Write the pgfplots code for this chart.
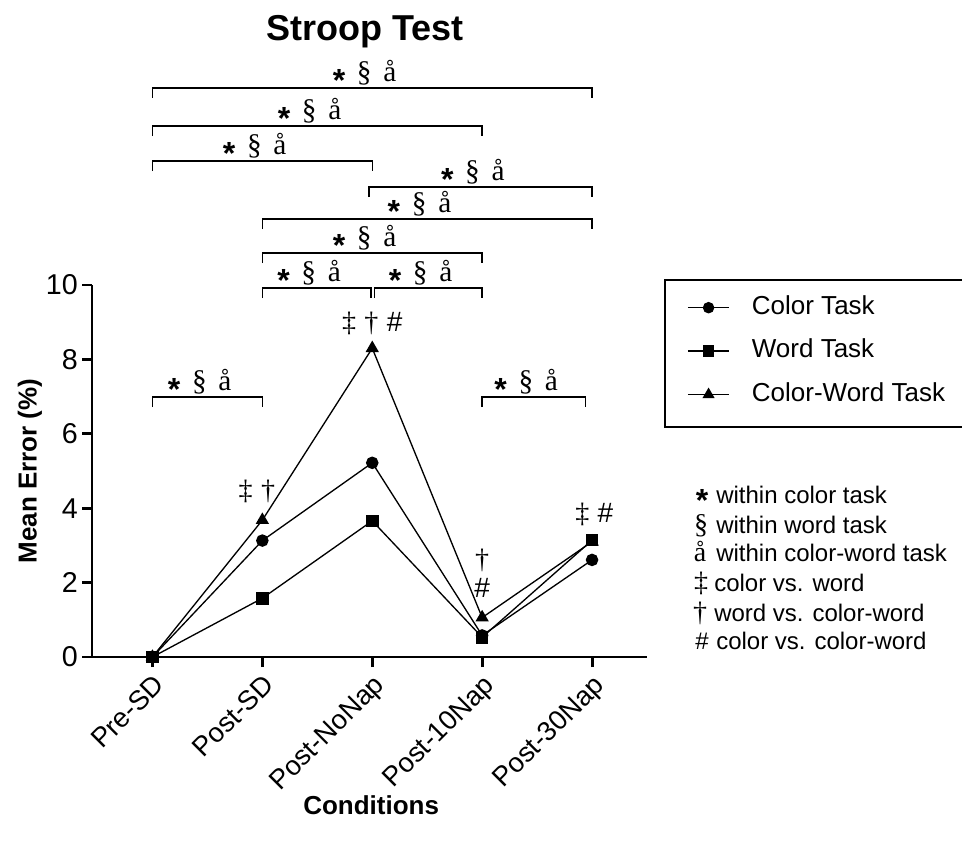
\documentclass[border=0pt]{standalone}
\usepackage{pgfplots}
\pgfplotsset{compat=1.18}
\usepackage{fontspec}
\setmainfont{Liberation Sans}
\newfontfamily\serif{Liberation Serif}

% a bold asterisk, lowered to sit in the middle of the line
\newcommand{\bigast}{\raisebox{-7.5pt}{\fontsize{24}{24}\selectfont\bfseries *}}
% significance mark above a bracket
\newcommand{\sig}{{\fontsize{22}{22}\selectfont\bigast\hspace{0.4em}{\serif §}\hspace{0.4em}{\serif å}}}
% bracket from x=#1 to x=#2 at height #3
\newcommand{\brk}[3]{%
  \draw[line width=1.1pt] (axis cs:#1,#3-0.27) -- (axis cs:#1,#3) -- (axis cs:#2,#3) -- (axis cs:#2,#3-0.27);
  \node[anchor=base, inner sep=0pt] at (axis cs:{(#1+#2)/2-0.07},#3+0.17) {\sig};}

\begin{document}
\begin{tikzpicture}
\path[use as bounding box] (0,0) rectangle (721.5pt,-633.75pt);
\begin{axis}[
    at={(69pt,-492.75pt)}, anchor=south west,
    scale only axis,
    width=416.25pt, height=279pt,
    xmin=-0.55, xmax=4.5,
    ymin=0, ymax=10,
    axis lines=left,
    axis line style={-, line width=2.2pt},
    tick style={line width=2.2pt, black},
    tick align=outside,
    major tick length=7.5pt,
    xtick={0,1,2,3,4},
    xticklabels={Pre-SD,Post-SD,Post-NoNap,Post-10Nap,Post-30Nap},
    ytick={0,2,4,6,8,10},
    /pgf/number format/assume math mode=true,
    x tick label style={rotate=45, anchor=north east, font=\fontsize{20.5}{21}\selectfont, inner sep=3pt},
    y tick label style={font=\fontsize{21.5}{22}\selectfont, inner sep=3pt},
    title={Stroop Test},
    title style={at={(axis description cs:0.492,1.66)}, anchor=center, font=\fontsize{27}{30}\selectfont\bfseries},
    xlabel={Conditions},
    xlabel style={at={(axis description cs:0.503,-0.398)}, anchor=center, font=\fontsize{19.5}{22}\selectfont\bfseries},
    ylabel={Mean Error (\%)},
    ylabel style={at={(axis description cs:-0.112,0.5)}, anchor=center, font=\fontsize{19.5}{22}\selectfont\bfseries},
    clip=false,
    legend style={at={(axis description cs:1.072,0.972)}, anchor=north west,
        draw=none, fill=none, inner sep=0pt, row sep=14.6pt,
        font=\fontsize{19.5}{20}\selectfont,
        nodes={inner sep=0pt, text height=14pt, text depth=4pt},
        /tikz/every odd column/.append style={column sep=16.5pt}},
    legend cell align=left,
    legend image code/.code={\draw[mark repeat=2,mark phase=2] plot coordinates {(0pt,0pt) (15.5pt,0pt) (31pt,0pt)};},
]
% Color task
\addplot[black, line width=1pt, mark=*, mark size=4.2pt, forget plot] coordinates {
    (0,0) (1,3.13) (2,5.22) (3,0.58) (4,2.61)
};
% Color-Word task
\addplot[black, line width=1pt, mark=triangle*, mark size=4.8pt, forget plot] coordinates {
    (0,0) (1,3.68) (2,8.30) (3,1.06) (4,3.10)
};
% Word task (drawn last, on top)
\addplot[black, line width=1pt, mark=square*, mark size=4.2pt, forget plot] coordinates {
    (0,0) (1,1.58) (2,3.66) (3,0.53) (4,3.14)
};
\addlegendimage{black, line width=1pt, mark=*, mark size=3.8pt}
\addlegendentry{Color Task}
\addlegendimage{black, line width=1pt, mark=square*, mark size=3.8pt}
\addlegendentry{Word Task}
\addlegendimage{black, line width=1pt, mark=triangle*, mark size=4.3pt}
\addlegendentry{Color-Word Task}

% comparison brackets
\brk{0}{4}{15.30}
\brk{0}{3}{14.27}
\brk{0}{2}{13.33}
\brk{1.97}{4}{12.63}
\brk{1}{4}{11.77}
\brk{1}{3}{10.86}
\brk{1}{1.99}{9.92}
\brk{2.02}{3}{9.92}
\brk{0}{1}{6.99}
\brk{3}{3.94}{6.99}

% between-task marks
\begin{scope}[every node/.style={font=\fontsize{21}{21}\selectfont}]
\node at (axis cs:0.95,4.44) {{\serif ‡}\hspace{0.3em}{\serif †}};
\node at (axis cs:2.0,8.98) {{\serif ‡}\hspace{0.3em}{\serif †}\hspace{0.3em}\#};
\node at (axis cs:3.0,2.60) {\serif †};
\node at (axis cs:3.0,1.85) {\#};
\node at (axis cs:4.02,3.82) {{\serif ‡}\hspace{0.3em}\#};
\end{scope}
\end{axis}

\begin{scope}[x=0.75pt, y=-0.75pt]
  % legend frame (runs past the right edge as in the reference)
  \draw[line width=1.3pt] (665,280) rectangle (985,427);
  % key to symbols
  \begin{scope}[every node/.style={font=\fontsize{18}{18}\selectfont, inner sep=0pt}]
    \node[anchor=base] at (702,501) {\bigast};
    \node[anchor=base] at (701,533) {\fontsize{21}{21}\selectfont\serif §};
    \node[anchor=base] at (700,561) {\fontsize{21}{21}\selectfont\serif å};
    \node[anchor=base] at (701,591) {\fontsize{21}{21}\selectfont\serif ‡};
    \node[anchor=base] at (700,621) {\fontsize{21}{21}\selectfont\serif †};
    \node[anchor=base] at (702,649) {\#};
    \node[anchor=base west] at (716,503) {within color task};
    \node[anchor=base west] at (716,533) {within word task};
    \node[anchor=base west] at (716,561) {within color-word task};
    \node[anchor=base west] at (714,591) {color vs. word};
    \node[anchor=base west] at (714,621) {word vs. color-word};
    \node[anchor=base west] at (716,649) {color vs. color-word};
  \end{scope}
\end{scope}
\end{tikzpicture}
\end{document}
